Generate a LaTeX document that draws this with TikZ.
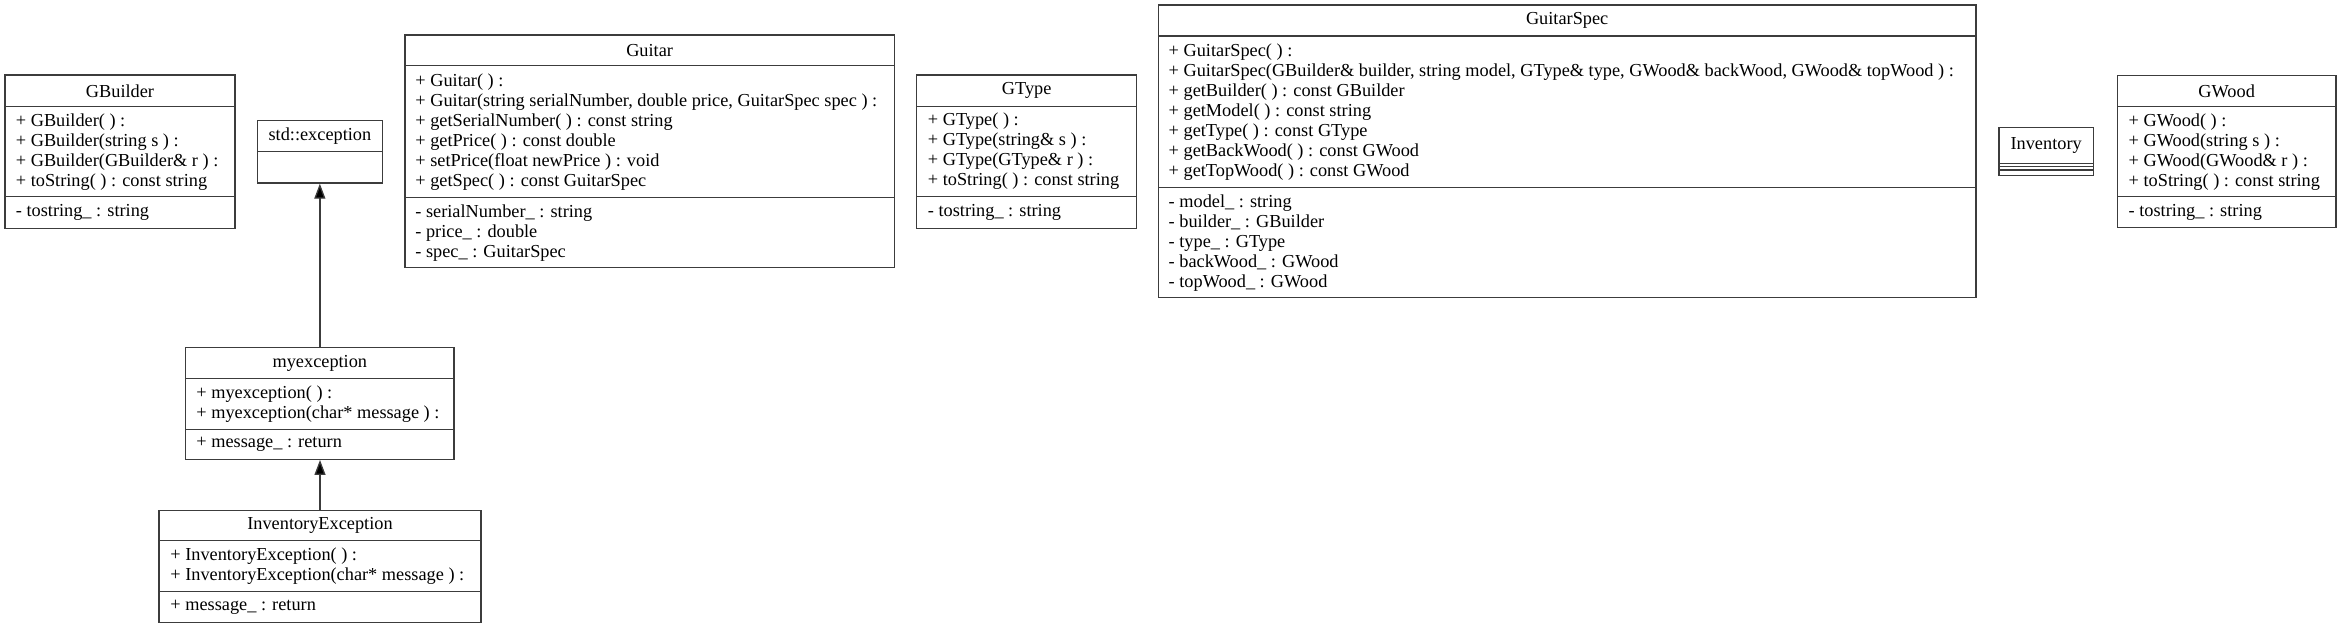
\documentclass[tikz,border=0pt]{standalone}
\usepackage{fontspec}
\setmainfont{Liberation Serif}
\usetikzlibrary{fit,arrows.meta}
\definecolor{linecol}{RGB}{60,60,60}
\tikzset{
  box/.style={draw=linecol, line width=0.65pt, inner sep=0pt},
  sep/.style={draw=linecol, line width=0.65pt},
  txt/.style={inner sep=0pt, font=\fontsize{9.15}{10}\selectfont, align=left, text=black},
  lbl/.style={txt, anchor=west},
  inh/.style={draw=linecol, line width=0.65pt, -{Triangle[length=7.5pt,width=5.5pt,fill=black]}}
}
\begin{document}
\begin{tikzpicture}[x=0.5pt,y=-0.5pt]
\useasboundingbox (0,0) rectangle (2341,629);

% GBuilder
\node[box, fit={(5,75) (235,228.3)}] (gbuilder) {};
\draw[sep] (5,106.7) -- (235,106.7);
\draw[sep] (5,196.7) -- (235,196.7);
\node[txt] (gbuilder-t) at (120,90.85) {GBuilder};
\node[lbl] (gbuilder-m) at (15.5,151.7) {+ GBuilder( ) :\\+ GBuilder(string s ) :\\+ GBuilder(GBuilder\& r ) :\\+ toString( ) : const string};
\node[lbl] (gbuilder-a) at (15.5,212.5) {- tostring\_ : string};

% std::exception
\node[box, fit={(257.5,120.7) (382.3,183)}] (stdexc) {};
\draw[sep] (257.5,151.2) -- (382.3,151.2);
\node[txt] (stdexc-t) at (319.9,135.95) {std::exception};

% Guitar
\node[box, fit={(405,35) (894.3,267.7)}] (guitar) {};
\draw[sep] (405,65.7) -- (894.3,65.7);
\draw[sep] (405,197.7) -- (894.3,197.7);
\node[txt] (guitar-t) at (649.65,50.35) {Guitar};
\node[lbl] (guitar-m) at (415,131.7) {+ Guitar( ) :\\+ Guitar(string serialNumber, double price, GuitarSpec spec ) :\\+ getSerialNumber( ) : const string\\+ getPrice( ) : const double\\+ setPrice(float newPrice ) : void\\+ getSpec( ) : const GuitarSpec};
\node[lbl] (guitar-a) at (415,232.7) {- serialNumber\_ : string\\- price\_ : double\\- spec\_ : GuitarSpec};

% GType
\node[box, fit={(916.7,75) (1136.7,228.3)}] (gtype) {};
\draw[sep] (916.7,106.3) -- (1136.7,106.3);
\draw[sep] (916.7,196.7) -- (1136.7,196.7);
\node[txt] (gtype-t) at (1026.7,90.65) {GType};
\node[lbl] (gtype-m) at (927.5,151.5) {+ GType( ) :\\+ GType(string\& s ) :\\+ GType(GType\& r ) :\\+ toString( ) : const string};
\node[lbl] (gtype-a) at (927.5,212.5) {- tostring\_ : string};

% GuitarSpec
\node[box, fit={(1158.3,5) (1976,297.7)}] (gspec) {};
\draw[sep] (1158.3,36) -- (1976,36);
\draw[sep] (1158.3,187.7) -- (1976,187.7);
\node[txt] (gspec-t) at (1567.15,20.5) {GuitarSpec};
\node[lbl] (gspec-m) at (1168.3,111.85) {+ GuitarSpec( ) :\\+ GuitarSpec(GBuilder\& builder, string model, GType\& type, GWood\& backWood, GWood\& topWood ) :\\+ getBuilder( ) : const GBuilder\\+ getModel( ) : const string\\+ getType( ) : const GType\\+ getBackWood( ) : const GWood\\+ getTopWood( ) : const GWood};
\node[lbl] (gspec-a) at (1168.3,242.7) {- model\_ : string\\- builder\_ : GBuilder\\- type\_ : GType\\- backWood\_ : GWood\\- topWood\_ : GWood};

% Inventory
\node[box, fit={(1999,127.5) (2093.3,175.7)}] (inventory) {};
\draw[sep] (1999,163.8) -- (2093.3,163.8);
\draw[sep] (1999,166.5) -- (2093.3,166.5);
\draw[sep] (1999,170) -- (2093.3,170);
\node[txt] (inventory-t) at (2046.15,145.6) {Inventory};

% GWood
\node[box, fit={(2117.3,75.7) (2336,227.7)}] (gwood) {};
\draw[sep] (2117.3,106.7) -- (2336,106.7);
\draw[sep] (2117.3,196.7) -- (2336,196.7);
\node[txt] (gwood-t) at (2226.65,91.2) {GWood};
\node[lbl] (gwood-m) at (2128.3,151.7) {+ GWood( ) :\\+ GWood(string s ) :\\+ GWood(GWood\& r ) :\\+ toString( ) : const string};
\node[lbl] (gwood-a) at (2128.3,212.2) {- tostring\_ : string};

% myexception
\node[box, fit={(185.7,347.7) (454,459.3)}] (myexc) {};
\draw[sep] (185.7,378.3) -- (454,378.3);
\draw[sep] (185.7,429.3) -- (454,429.3);
\node[txt] (myexc-t) at (319.85,363) {myexception};
\node[lbl] (myexc-m) at (196,403.8) {+ myexception( ) :\\+ myexception(char* message ) :};
\node[lbl] (myexc-a) at (196,444.3) {+ message\_ : return};

% InventoryException
\node[box, fit={(159,510.7) (481,622.3)}] (invexc) {};
\draw[sep] (159,540.7) -- (481,540.7);
\draw[sep] (159,591.7) -- (481,591.7);
\node[txt] (invexc-t) at (320,525.7) {InventoryException};
\node[lbl] (invexc-m) at (170,566.2) {+ InventoryException( ) :\\+ InventoryException(char* message ) :};
\node[lbl] (invexc-a) at (170,607) {+ message\_ : return};

% inheritance
\draw[inh] (myexc.north) -- (myexc.north |- stdexc.south);
\draw[inh] (invexc.north) -- (invexc.north |- myexc.south);
\end{tikzpicture}
\end{document}
